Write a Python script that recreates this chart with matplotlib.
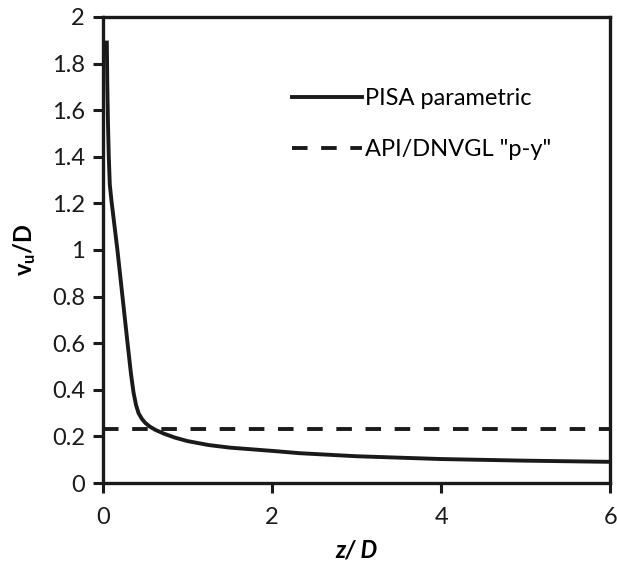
import matplotlib
matplotlib.use("Agg")
import matplotlib.pyplot as plt

# PISA parametric ultimate displacement vs depth
z_pisa = [0.045, 0.05, 0.058, 0.068, 0.08, 0.10, 0.17, 0.23, 0.29, 0.33, 0.36,
          0.39, 0.42, 0.46, 0.50, 0.55, 0.62, 0.72, 0.85, 1.0, 1.25, 1.5, 2.0,
          2.33, 3.0, 4.0, 5.0, 6.0]
v_pisa = [1.89, 1.72, 1.55, 1.40, 1.28, 1.21, 1.00, 0.80, 0.60, 0.47, 0.39,
          0.335, 0.30, 0.275, 0.258, 0.243, 0.228, 0.212, 0.195, 0.18, 0.163, 0.152, 0.138,
          0.128, 0.115, 0.103, 0.096, 0.091]

# API/DNVGL p-y constant value
z_api = [0, 6]
v_api = [0.23, 0.23]

xticks = [0, 2, 4, 6]
yticks = [0, 0.2, 0.4, 0.6, 0.8, 1, 1.2, 1.4, 1.6, 1.8, 2]

plt.rcParams['font.family'] = ['Lato', 'DejaVu Sans']
plt.rcParams['mathtext.fontset'] = 'custom'
plt.rcParams['mathtext.rm'] = 'Lato'
plt.rcParams['mathtext.it'] = 'Lato:italic'
plt.rcParams['mathtext.bf'] = 'Lato:bold'

fig = plt.figure(figsize=(6.17, 5.63), dpi=100)
ax = fig.add_axes([0.167, 0.142, 0.822, 0.828])

ax.plot(z_pisa, v_pisa, color='#1a1a1a', lw=2.8, label='PISA parametric')
ax.plot(z_api, v_api, color='#1a1a1a', lw=2.8, dashes=(4, 3.5), label='API/DNVGL "p-y"')

ax.set_xlim(0, 6)
ax.set_ylim(0, 2)
ax.set_xticks(xticks)
ax.set_yticks(yticks)
ax.set_yticklabels([f'{t:g}' for t in yticks])

for s in ax.spines.values():
    s.set_linewidth(2.4)
    s.set_color('#1a1a1a')
ax.tick_params(axis='both', direction='out', length=7, width=2.2,
               labelsize=17, colors='#1a1a1a', pad=6)
ax.tick_params(axis='x', pad=10)

ax.set_xlabel('z/ D', fontsize=17, style='italic', fontweight='bold', labelpad=8)
ax.set_ylabel(r'$\mathbf{v_{u}/D}$', fontsize=17, labelpad=10)

ax.legend(loc='upper left', bbox_to_anchor=(0.33, 0.892), frameon=False,
          fontsize=17, handlelength=3.0, handletextpad=0.1, labelspacing=1.25)

fig.savefig('out.png', dpi=100)
